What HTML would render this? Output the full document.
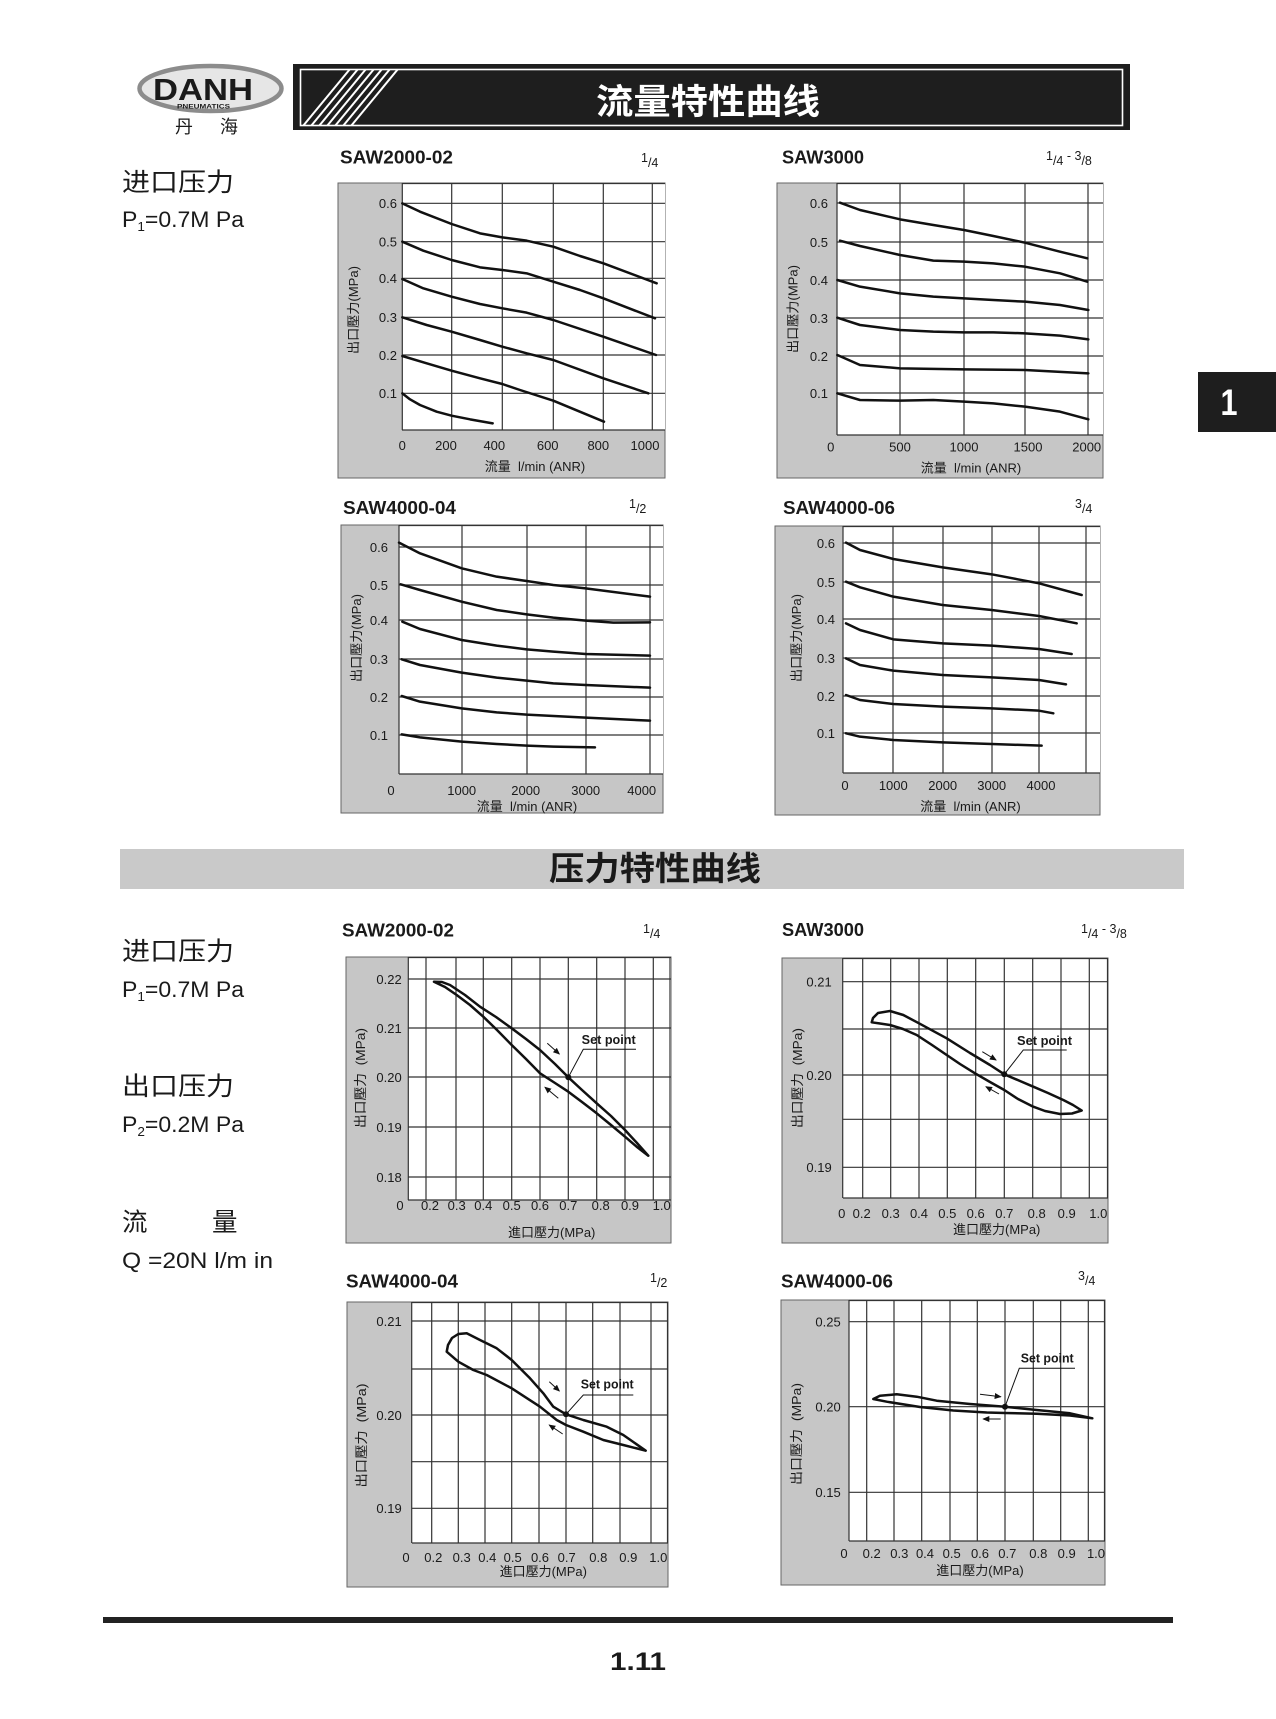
<!DOCTYPE html>
<html><head><meta charset="utf-8">
<style>
html,body{margin:0;padding:0;background:#fff;}
svg{display:block}
text{font-family:"Liberation Sans","Noto Sans CJK SC",sans-serif;fill:#1a1a1a;}
.cjk{font-family:"Liberation Sans","Noto Sans CJK SC",sans-serif;}
.g line{stroke:#333;stroke-width:1.2;}
.cv{fill:none;stroke:#111;stroke-linejoin:round;stroke-linecap:round;}
.tk{font-size:13px;}
.ax{font-size:13px;}
.ttl{font-size:18.5px;font-weight:bold;}
.fr{font-size:12.5px;}
.sp{font-size:12.5px;font-weight:bold;}
</style></head><body>
<svg width="1276" height="1719" viewBox="0 0 1276 1719" xmlns="http://www.w3.org/2000/svg">
<defs>
<marker id="ah" markerWidth="7" markerHeight="6" refX="6" refY="3" orient="auto" markerUnits="userSpaceOnUse">
<path d="M0,0 L7,3 L0,6 z" fill="#111"/>
</marker>
<clipPath id="hb"><rect x="301" y="70" width="821" height="55"/></clipPath>
</defs>

<!-- ===== LOGO ===== -->
<ellipse cx="210.5" cy="88.5" rx="71" ry="22.5" fill="#e6e6e6" stroke="#8c8c8c" stroke-width="4.5"/>
<text x="203" y="100" font-size="31" font-weight="bold" text-anchor="middle" textLength="100" lengthAdjust="spacingAndGlyphs">DANH</text>
<text x="177" y="108.5" font-size="6.5" font-weight="bold" textLength="53" lengthAdjust="spacingAndGlyphs">PNEUMATICS</text>
<text x="175" y="133" font-size="18" class="cjk">丹</text>
<text x="220" y="133" font-size="18" class="cjk">海</text>

<!-- ===== HEADER BAR ===== -->
<rect x="293" y="64" width="837" height="66" fill="#1e1e1e"/>
<rect x="300.5" y="69.5" width="822" height="56" fill="none" stroke="#fff" stroke-width="1.6"/>
<g clip-path="url(#hb)" stroke="#fff" stroke-width="2">
<line x1="303" y1="126" x2="350" y2="69"/>
<line x1="311" y1="126" x2="358" y2="69"/>
<line x1="319" y1="126" x2="366" y2="69"/>
<line x1="327" y1="126" x2="374" y2="69"/>
<line x1="335" y1="126" x2="382" y2="69"/>
<line x1="343" y1="126" x2="390" y2="69"/>
<line x1="351" y1="126" x2="398" y2="69"/>
</g>
<text x="708" y="114" font-size="35" font-weight="bold" text-anchor="middle" class="cjk" style="fill:#fff" textLength="224" lengthAdjust="spacingAndGlyphs">流量特性曲线</text>

<!-- tab -->
<rect x="1198" y="372" width="78" height="60" fill="#1e1e1e"/>
<text x="1229" y="415" font-size="37" font-weight="bold" text-anchor="middle" style="fill:#fff" textLength="17" lengthAdjust="spacingAndGlyphs">1</text>

<!-- ===== LEFT TEXT section 1 ===== -->
<text x="122" y="191" font-size="25.5" class="cjk" textLength="112" lengthAdjust="spacingAndGlyphs">进口压力</text>
<text x="122" y="227" font-size="22" textLength="122" lengthAdjust="spacingAndGlyphs">P<tspan font-size="13" dy="4">1</tspan><tspan dy="-4">=0.7M Pa</tspan></text>

<!-- ===== FLOW CHART 1 ===== -->
<text x="340" y="163.3" class="ttl" textLength="113" lengthAdjust="spacingAndGlyphs">SAW2000-02</text>
<text x="641" y="162" class="fr">1<tspan dy="5">/4</tspan></text>
<rect x="338" y="183" width="327" height="295" fill="#c6c6c6" stroke="#666" stroke-width="1"/>
<rect x="402" y="183" width="263" height="247" fill="#fff"/>
<g class="g">
<line x1="402.3" y1="183" x2="402.3" y2="430"/><line x1="451.7" y1="183" x2="451.7" y2="430"/><line x1="502.3" y1="183" x2="502.3" y2="430"/><line x1="553.3" y1="183" x2="553.3" y2="430"/><line x1="603.3" y1="183" x2="603.3" y2="430"/><line x1="652.3" y1="183" x2="652.3" y2="430"/>
<line x1="402" y1="203.3" x2="665" y2="203.3"/><line x1="402" y1="241.7" x2="665" y2="241.7"/><line x1="402" y1="278.3" x2="665" y2="278.3"/><line x1="402" y1="317.3" x2="665" y2="317.3"/><line x1="402" y1="355" x2="665" y2="355"/><line x1="402" y1="393.3" x2="665" y2="393.3"/>
<line x1="402" y1="430" x2="665" y2="430"/><line x1="402" y1="183.5" x2="665" y2="183.5"/>
</g>
<g class="tk" text-anchor="end">
<text x="397" y="208">0.6</text><text x="397" y="246.5">0.5</text><text x="397" y="283">0.4</text><text x="397" y="322">0.3</text><text x="397" y="360">0.2</text><text x="397" y="398">0.1</text>
</g>
<g class="tk" text-anchor="middle">
<text x="402.3" y="450">0</text><text x="446" y="450">200</text><text x="494.3" y="450">400</text><text x="547.7" y="450">600</text><text x="598.3" y="450">800</text><text x="645" y="450">1000</text>
</g>
<text x="535" y="471" class="ax" text-anchor="middle">流量&#160; l/min (ANR)</text>
<text transform="translate(358,310) rotate(-90)" class="ax" text-anchor="middle" textLength="88" lengthAdjust="spacingAndGlyphs">出口壓力(MPa)</text>
<g transform="translate(320 130) scale(0.333333)" class="cv" stroke-width="7.5">
<polyline points="247,220 300,245 395,282 480,310 547,322 620,332 700,350 780,378 850,400 1010,460"/>
<polyline points="247,335 310,362 395,390 480,412 547,420 620,430 700,455 780,480 850,505 1005,565"/>
<polyline points="247,447 310,475 395,500 480,522 547,535 620,548 700,570 850,620 1008,675"/>
<polyline points="247,562 320,585 395,605 480,630 547,650 620,670 700,690 850,745 985,790"/>
<polyline points="247,678 320,700 395,722 480,745 547,762 600,780 700,812 852,875"/>
<polyline points="247,790 270,808 300,825 350,845 395,857 450,868 518,880"/>
</g>

<!-- ===== FLOW CHART 2 ===== -->
<text x="782" y="163.3" class="ttl" textLength="82" lengthAdjust="spacingAndGlyphs">SAW3000</text>
<text x="1046" y="160" class="fr">1<tspan dy="5">/4</tspan><tspan dy="-5"> - 3</tspan><tspan dy="5">/8</tspan></text>
<rect x="777" y="183" width="326" height="295" fill="#c6c6c6" stroke="#666" stroke-width="1"/>
<rect x="837" y="183" width="266" height="252" fill="#fff"/>
<g class="g">
<line x1="837" y1="183" x2="837" y2="435"/><line x1="900" y1="183" x2="900" y2="435"/><line x1="964" y1="183" x2="964" y2="435"/><line x1="1025" y1="183" x2="1025" y2="435"/><line x1="1088" y1="183" x2="1088" y2="435"/>
<line x1="837" y1="203" x2="1103" y2="203"/><line x1="837" y1="242" x2="1103" y2="242"/><line x1="837" y1="280" x2="1103" y2="280"/><line x1="837" y1="318" x2="1103" y2="318"/><line x1="837" y1="356" x2="1103" y2="356"/><line x1="837" y1="393" x2="1103" y2="393"/>
<line x1="837" y1="435" x2="1103" y2="435"/><line x1="837" y1="183.5" x2="1103" y2="183.5"/>
</g>
<g class="tk" text-anchor="end">
<text x="828" y="208">0.6</text><text x="828" y="247">0.5</text><text x="828" y="285">0.4</text><text x="828" y="323">0.3</text><text x="828" y="361">0.2</text><text x="828" y="398">0.1</text>
</g>
<g class="tk" text-anchor="middle">
<text x="830.7" y="451.5">0</text><text x="900" y="451.5">500</text><text x="964" y="451.5">1000</text><text x="1028" y="451.5">1500</text><text x="1086.7" y="451.5">2000</text>
</g>
<text x="971" y="472.5" class="ax" text-anchor="middle">流量&#160; l/min (ANR)</text>
<text transform="translate(797.5,309) rotate(-90)" class="ax" text-anchor="middle" textLength="88" lengthAdjust="spacingAndGlyphs">出口壓力(MPa)</text>
<g transform="translate(760 130) scale(0.333333)" class="cv" stroke-width="7.5">
<polyline points="240,218 300,240 420,268 520,285 612,300 700,318 795,338 900,365 982,385"/>
<polyline points="240,332 300,348 420,375 520,392 612,395 700,400 795,410 900,430 982,455"/>
<polyline points="232,450 300,470 420,490 520,500 612,505 700,510 795,515 900,525 985,540"/>
<polyline points="232,563 300,585 420,600 520,605 612,607 700,607 795,610 900,617 985,628"/>
<polyline points="232,675 300,705 420,715 612,718 795,720 985,730"/>
<polyline points="232,790 300,810 420,812 520,810 612,815 700,820 795,830 900,845 985,868"/>
</g>

<!-- ===== FLOW CHART 3 ===== -->
<text x="343" y="514" class="ttl" textLength="113" lengthAdjust="spacingAndGlyphs">SAW4000-04</text>
<text x="629" y="508" class="fr">1<tspan dy="5">/2</tspan></text>
<rect x="341" y="525" width="322" height="288" fill="#c6c6c6" stroke="#666" stroke-width="1"/>
<rect x="399" y="525" width="264" height="249" fill="#fff"/>
<g class="g">
<line x1="399" y1="525" x2="399" y2="774"/><line x1="462" y1="525" x2="462" y2="774"/><line x1="527" y1="525" x2="527" y2="774"/><line x1="586" y1="525" x2="586" y2="774"/><line x1="650" y1="525" x2="650" y2="774"/>
<line x1="399" y1="547" x2="663" y2="547"/><line x1="399" y1="585" x2="663" y2="585"/><line x1="399" y1="620" x2="663" y2="620"/><line x1="399" y1="659" x2="663" y2="659"/><line x1="399" y1="697" x2="663" y2="697"/><line x1="399" y1="735" x2="663" y2="735"/>
<line x1="399" y1="774" x2="663" y2="774"/><line x1="399" y1="525.5" x2="663" y2="525.5"/>
</g>
<g class="tk" text-anchor="end">
<text x="388" y="552">0.6</text><text x="388" y="590">0.5</text><text x="388" y="625">0.4</text><text x="388" y="664">0.3</text><text x="388" y="702">0.2</text><text x="388" y="740">0.1</text>
</g>
<g class="tk" text-anchor="middle">
<text x="391" y="795">0</text><text x="461.7" y="795">1000</text><text x="525.7" y="795">2000</text><text x="585.7" y="795">3000</text><text x="641.7" y="795">4000</text>
</g>
<text x="527" y="811" class="ax" text-anchor="middle">流量&#160; l/min (ANR)</text>
<text transform="translate(361,638) rotate(-90)" class="ax" text-anchor="middle" textLength="88" lengthAdjust="spacingAndGlyphs">出口壓力(MPa)</text>
<g transform="translate(320 480) scale(0.333333)" class="cv" stroke-width="7.5">
<polyline points="237,188 300,220 425,265 530,290 620,303 700,315 797,325 990,350"/>
<polyline points="242,313 300,330 425,365 530,390 620,403 700,413 797,422 880,428 990,427"/>
<polyline points="247,425 300,447 425,480 530,497 620,508 700,515 797,522 990,527"/>
<polyline points="245,538 300,555 425,578 530,593 620,602 700,610 797,615 990,623"/>
<polyline points="245,648 300,665 425,685 530,697 620,704 797,713 990,722"/>
<polyline points="245,763 300,772 425,785 530,792 620,797 700,800 825,802"/>
</g>

<!-- ===== FLOW CHART 4 ===== -->
<text x="783" y="514" class="ttl" textLength="112" lengthAdjust="spacingAndGlyphs">SAW4000-06</text>
<text x="1075" y="508" class="fr">3<tspan dy="5">/4</tspan></text>
<rect x="775" y="526" width="325" height="289" fill="#c6c6c6" stroke="#666" stroke-width="1"/>
<rect x="843" y="526" width="257" height="247" fill="#fff"/>
<g class="g">
<line x1="843" y1="526" x2="843" y2="773"/><line x1="893" y1="526" x2="893" y2="773"/><line x1="943" y1="526" x2="943" y2="773"/><line x1="992" y1="526" x2="992" y2="773"/><line x1="1039" y1="526" x2="1039" y2="773"/><line x1="1086" y1="526" x2="1086" y2="773"/>
<line x1="843" y1="543" x2="1100" y2="543"/><line x1="843" y1="582" x2="1100" y2="582"/><line x1="843" y1="619" x2="1100" y2="619"/><line x1="843" y1="658" x2="1100" y2="658"/><line x1="843" y1="696" x2="1100" y2="696"/><line x1="843" y1="733" x2="1100" y2="733"/>
<line x1="843" y1="773" x2="1100" y2="773"/><line x1="843" y1="526.5" x2="1100" y2="526.5"/>
</g>
<g class="tk" text-anchor="end">
<text x="835" y="548">0.6</text><text x="835" y="587">0.5</text><text x="835" y="624">0.4</text><text x="835" y="663">0.3</text><text x="835" y="701">0.2</text><text x="835" y="738">0.1</text>
</g>
<g class="tk" text-anchor="middle">
<text x="845" y="790">0</text><text x="893.3" y="790">1000</text><text x="942.7" y="790">2000</text><text x="991.7" y="790">3000</text><text x="1041" y="790">4000</text>
</g>
<text x="970.5" y="811" class="ax" text-anchor="middle">流量&#160; l/min (ANR)</text>
<text transform="translate(801,638) rotate(-90)" class="ax" text-anchor="middle" textLength="88" lengthAdjust="spacingAndGlyphs">出口壓力(MPa)</text>
<g transform="translate(760 480) scale(0.333333)" class="cv" stroke-width="7.5">
<polyline points="258,188 300,210 400,237 548,262 695,283 837,310 965,345"/>
<polyline points="258,305 300,322 400,350 548,375 695,390 837,408 950,430"/>
<polyline points="258,430 300,450 400,478 548,490 695,497 837,507 935,522"/>
<polyline points="258,535 300,555 400,572 548,585 695,592 837,600 918,613"/>
<polyline points="258,645 300,660 400,672 548,680 695,685 837,692 880,700"/>
<polyline points="258,760 300,770 400,780 548,787 695,792 845,797"/>
</g>

<!-- ===== BANNER 2 ===== -->
<rect x="120" y="849" width="1064" height="40" fill="#c9c9c9"/>
<text x="655" y="880" font-size="33" font-weight="bold" text-anchor="middle" class="cjk" textLength="212" lengthAdjust="spacingAndGlyphs">压力特性曲线</text>

<!-- ===== LEFT TEXT section 2 ===== -->
<text x="122" y="960" font-size="25.5" class="cjk" textLength="112" lengthAdjust="spacingAndGlyphs">进口压力</text>
<text x="122" y="997" font-size="22" textLength="122" lengthAdjust="spacingAndGlyphs">P<tspan font-size="13" dy="4">1</tspan><tspan dy="-4">=0.7M Pa</tspan></text>
<text x="122" y="1095" font-size="25.5" class="cjk" textLength="112" lengthAdjust="spacingAndGlyphs">出口压力</text>
<text x="122" y="1132" font-size="22" textLength="122" lengthAdjust="spacingAndGlyphs">P<tspan font-size="13" dy="4">2</tspan><tspan dy="-4">=0.2M Pa</tspan></text>
<text x="122" y="1231" font-size="25.5" class="cjk">流</text>
<text x="212" y="1231" font-size="25.5" class="cjk">量</text>
<text x="122" y="1268" font-size="22" textLength="151" lengthAdjust="spacingAndGlyphs">Q =20N l/m in</text>

<!-- ===== PRESSURE CHART 1 ===== -->
<text x="342" y="936.7" class="ttl" textLength="112" lengthAdjust="spacingAndGlyphs">SAW2000-02</text>
<text x="643" y="933" class="fr">1<tspan dy="5">/4</tspan></text>
<rect x="346" y="957" width="325" height="286" fill="#c6c6c6" stroke="#666" stroke-width="1"/>
<rect x="408" y="957" width="263" height="243" fill="#fff"/>
<g class="g">
<line x1="408.3" y1="957" x2="408.3" y2="1200"/><line x1="426" y1="957" x2="426" y2="1200"/><line x1="456" y1="957" x2="456" y2="1200"/><line x1="483.3" y1="957" x2="483.3" y2="1200"/><line x1="511.7" y1="957" x2="511.7" y2="1200"/><line x1="540" y1="957" x2="540" y2="1200"/><line x1="568.3" y1="957" x2="568.3" y2="1200"/><line x1="596.7" y1="957" x2="596.7" y2="1200"/><line x1="625" y1="957" x2="625" y2="1200"/><line x1="653.3" y1="957" x2="653.3" y2="1200"/><line x1="670" y1="957" x2="670" y2="1200"/>
<line x1="408" y1="979" x2="671" y2="979"/><line x1="408" y1="1028" x2="671" y2="1028"/><line x1="408" y1="1077" x2="671" y2="1077"/><line x1="408" y1="1127" x2="671" y2="1127"/><line x1="408" y1="1177" x2="671" y2="1177"/>
<line x1="408" y1="1200" x2="671" y2="1200"/><line x1="408" y1="957.5" x2="671" y2="957.5"/>
</g>
<g class="tk" text-anchor="end">
<text x="401.7" y="984">0.22</text><text x="401.7" y="1033">0.21</text><text x="401.7" y="1082">0.20</text><text x="401.7" y="1132">0.19</text><text x="401.7" y="1182">0.18</text>
</g>
<g class="tk" text-anchor="middle">
<text x="400" y="1210">0</text><text x="430" y="1210">0.2</text><text x="456.7" y="1210">0.3</text><text x="483.3" y="1210">0.4</text><text x="511.7" y="1210">0.5</text><text x="540" y="1210">0.6</text><text x="568.3" y="1210">0.7</text><text x="600.7" y="1210">0.8</text><text x="630" y="1210">0.9</text><text x="661.7" y="1210">1.0</text>
</g>
<text x="551.7" y="1237" class="ax" text-anchor="middle">進口壓力(MPa)</text>
<text transform="translate(365,1078) rotate(-90)" class="ax" text-anchor="middle" textLength="100" lengthAdjust="spacingAndGlyphs">出口壓力&#160; (MPa)</text>
<path class="cv" stroke-width="2.5" d="M434,981.7 L442,982 450,985 465,995 480,1006.7 496,1017 511.7,1028.3 526,1039 540,1050 555,1064 568.3,1077.3 582,1090 596.7,1103.3 611,1116 625,1130 637,1143 648.3,1155.7 L637,1147 625,1136.7 611,1125 596.7,1113.3 582,1102 568.3,1091.7 555,1083 540,1073.3 526,1059 511.7,1045 497,1030 483.3,1016.7 470,1005 456.7,995 445,987 434,981.7 Z"/>
<circle cx="568.3" cy="1077.3" r="3" fill="#111"/>
<polyline points="568.3,1077.3 583.3,1049.3 636,1049.3" fill="none" stroke="#111" stroke-width="1"/>
<text x="581.7" y="1044" class="sp" textLength="54" lengthAdjust="spacingAndGlyphs">Set point</text>
<line x1="547.3" y1="1043.3" x2="559.3" y2="1054" stroke="#111" stroke-width="1" marker-end="url(#ah)"/>
<line x1="558.3" y1="1098.3" x2="545" y2="1087.3" stroke="#111" stroke-width="1" marker-end="url(#ah)"/>

<!-- ===== PRESSURE CHART 2 ===== -->
<text x="782" y="936" class="ttl" textLength="82" lengthAdjust="spacingAndGlyphs">SAW3000</text>
<text x="1081" y="933" class="fr">1<tspan dy="5">/4</tspan><tspan dy="-5"> - 3</tspan><tspan dy="5">/8</tspan></text>
<rect x="782" y="958" width="326" height="285" fill="#c6c6c6" stroke="#666" stroke-width="1"/>
<rect x="843" y="958" width="265" height="240" fill="#fff"/>
<g class="g">
<line x1="842.7" y1="958" x2="842.7" y2="1198"/><line x1="862.7" y1="958" x2="862.7" y2="1198"/><line x1="890.7" y1="958" x2="890.7" y2="1198"/><line x1="919" y1="958" x2="919" y2="1198"/><line x1="947.3" y1="958" x2="947.3" y2="1198"/><line x1="975.7" y1="958" x2="975.7" y2="1198"/><line x1="1004.3" y1="958" x2="1004.3" y2="1198"/><line x1="1032.7" y1="958" x2="1032.7" y2="1198"/><line x1="1061" y1="958" x2="1061" y2="1198"/><line x1="1089.3" y1="958" x2="1089.3" y2="1198"/><line x1="1107.5" y1="958" x2="1107.5" y2="1198"/>
<line x1="843" y1="981.7" x2="1108" y2="981.7"/><line x1="843" y1="1029" x2="1108" y2="1029"/><line x1="843" y1="1075" x2="1108" y2="1075"/><line x1="843" y1="1119.3" x2="1108" y2="1119.3"/><line x1="843" y1="1167.3" x2="1108" y2="1167.3"/>
<line x1="843" y1="1198" x2="1108" y2="1198"/><line x1="843" y1="958.5" x2="1108" y2="958.5"/>
</g>
<g class="tk" text-anchor="end">
<text x="831.7" y="986.5">0.21</text><text x="831.7" y="1080">0.20</text><text x="831.7" y="1172">0.19</text>
</g>
<g class="tk" text-anchor="middle">
<text x="841.7" y="1218">0</text><text x="861.7" y="1218">0.2</text><text x="890.7" y="1218">0.3</text><text x="919" y="1218">0.4</text><text x="947.3" y="1218">0.5</text><text x="975.7" y="1218">0.6</text><text x="1004.3" y="1218">0.7</text><text x="1036.7" y="1218">0.8</text><text x="1066.7" y="1218">0.9</text><text x="1098.3" y="1218">1.0</text>
</g>
<text x="996.7" y="1234" class="ax" text-anchor="middle">進口壓力(MPa)</text>
<text transform="translate(802,1078) rotate(-90)" class="ax" text-anchor="middle" textLength="100" lengthAdjust="spacingAndGlyphs">出口壓力&#160; (MPa)</text>
<path class="cv" stroke-width="2.5" d="M871.7,1022.3 L873,1018 878,1013 890,1011 903.3,1015 919,1023.3 946.7,1038.3 970,1053 990,1065 1004.3,1074.3 1020,1081 1033.3,1086.7 1048,1093 1063.3,1100 1073,1105 1081.7,1110.5 L1072,1113.5 1060,1114 1045,1111 1033.3,1106.7 1018,1099 1004.3,1090 990,1082 975,1073.3 960,1064 946.7,1055 932,1045 916.7,1035 903,1029 890,1025 880,1023.5 871.7,1022.3 Z"/>
<circle cx="1004.3" cy="1074.3" r="3" fill="#111"/>
<polyline points="1004.3,1074.3 1023.3,1050 1066.7,1050" fill="none" stroke="#111" stroke-width="1"/>
<text x="1017" y="1045" class="sp" textLength="55" lengthAdjust="spacingAndGlyphs">Set point</text>
<line x1="982.3" y1="1051.7" x2="996" y2="1060" stroke="#111" stroke-width="1" marker-end="url(#ah)"/>
<line x1="999" y1="1094" x2="986" y2="1086.7" stroke="#111" stroke-width="1" marker-end="url(#ah)"/>

<!-- ===== PRESSURE CHART 3 ===== -->
<text x="346" y="1287.3" class="ttl" textLength="112" lengthAdjust="spacingAndGlyphs">SAW4000-04</text>
<text x="650" y="1282" class="fr">1<tspan dy="5">/2</tspan></text>
<rect x="347" y="1302" width="321" height="285" fill="#c6c6c6" stroke="#666" stroke-width="1"/>
<rect x="412" y="1302" width="256" height="241" fill="#fff"/>
<g class="g">
<line x1="411.7" y1="1302" x2="411.7" y2="1543"/><line x1="431.7" y1="1302" x2="431.7" y2="1543"/><line x1="458.3" y1="1302" x2="458.3" y2="1543"/><line x1="485" y1="1302" x2="485" y2="1543"/><line x1="511.7" y1="1302" x2="511.7" y2="1543"/><line x1="539" y1="1302" x2="539" y2="1543"/><line x1="566" y1="1302" x2="566" y2="1543"/><line x1="592.7" y1="1302" x2="592.7" y2="1543"/><line x1="620" y1="1302" x2="620" y2="1543"/><line x1="651" y1="1302" x2="651" y2="1543"/><line x1="667.5" y1="1302" x2="667.5" y2="1543"/>
<line x1="412" y1="1321" x2="668" y2="1321"/><line x1="412" y1="1369" x2="668" y2="1369"/><line x1="412" y1="1415" x2="668" y2="1415"/><line x1="412" y1="1461.7" x2="668" y2="1461.7"/><line x1="412" y1="1508.3" x2="668" y2="1508.3"/>
<line x1="412" y1="1543" x2="668" y2="1543"/><line x1="412" y1="1302.5" x2="668" y2="1302.5"/>
</g>
<g class="tk" text-anchor="end">
<text x="401.7" y="1326">0.21</text><text x="401.7" y="1420">0.20</text><text x="401.7" y="1513">0.19</text>
</g>
<g class="tk" text-anchor="middle">
<text x="406" y="1562">0</text><text x="433.3" y="1562">0.2</text><text x="461.7" y="1562">0.3</text><text x="487.3" y="1562">0.4</text><text x="512.7" y="1562">0.5</text><text x="540" y="1562">0.6</text><text x="566.7" y="1562">0.7</text><text x="598.3" y="1562">0.8</text><text x="628.3" y="1562">0.9</text><text x="658.3" y="1562">1.0</text>
</g>
<text x="543.3" y="1576" class="ax" text-anchor="middle">進口壓力(MPa)</text>
<text transform="translate(366,1435.5) rotate(-90)" class="ax" text-anchor="middle" textLength="104" lengthAdjust="spacingAndGlyphs">出口壓力&#160; (MPa)</text>
<path class="cv" stroke-width="2.5" d="M446.7,1351.7 L448,1345 452,1338 458.3,1334 466.7,1333.3 480,1340 496.7,1348.3 511.7,1360 530,1378.3 543.3,1393.3 553.3,1406.7 566,1414.3 583.3,1420 606.7,1426.7 623.3,1435 645.7,1450.7 L623.3,1445 603.3,1440 583.3,1431.7 566,1425 556.7,1420 540,1406.7 511.7,1388.3 486.7,1375 473.3,1370 458.3,1361.7 446.7,1351.7 Z"/>
<circle cx="566" cy="1414.3" r="3" fill="#111"/>
<polyline points="566,1414.3 583.3,1395 633.3,1395" fill="none" stroke="#111" stroke-width="1"/>
<text x="580.7" y="1388.3" class="sp" textLength="53" lengthAdjust="spacingAndGlyphs">Set point</text>
<line x1="549.3" y1="1381.7" x2="559.3" y2="1391" stroke="#111" stroke-width="1" marker-end="url(#ah)"/>
<line x1="562.7" y1="1434" x2="549.3" y2="1425" stroke="#111" stroke-width="1" marker-end="url(#ah)"/>

<!-- ===== PRESSURE CHART 4 ===== -->
<text x="781" y="1287.3" class="ttl" textLength="112" lengthAdjust="spacingAndGlyphs">SAW4000-06</text>
<text x="1078" y="1280" class="fr">3<tspan dy="5">/4</tspan></text>
<rect x="781" y="1300" width="324" height="285" fill="#c6c6c6" stroke="#666" stroke-width="1"/>
<rect x="849" y="1300" width="256" height="241" fill="#fff"/>
<g class="g">
<line x1="849" y1="1300" x2="849" y2="1541"/><line x1="866.7" y1="1300" x2="866.7" y2="1541"/><line x1="894" y1="1300" x2="894" y2="1541"/><line x1="921.7" y1="1300" x2="921.7" y2="1541"/><line x1="950" y1="1300" x2="950" y2="1541"/><line x1="977.3" y1="1300" x2="977.3" y2="1541"/><line x1="1005" y1="1300" x2="1005" y2="1541"/><line x1="1033.3" y1="1300" x2="1033.3" y2="1541"/><line x1="1060.7" y1="1300" x2="1060.7" y2="1541"/><line x1="1088.3" y1="1300" x2="1088.3" y2="1541"/><line x1="1104.5" y1="1300" x2="1104.5" y2="1541"/>
<line x1="849" y1="1321.7" x2="1105" y2="1321.7"/><line x1="849" y1="1406.7" x2="1105" y2="1406.7"/><line x1="849" y1="1492.3" x2="1105" y2="1492.3"/>
<line x1="849" y1="1541" x2="1105" y2="1541"/><line x1="849" y1="1300.5" x2="1105" y2="1300.5"/>
</g>
<g class="tk" text-anchor="end">
<text x="840.7" y="1326.5">0.25</text><text x="840.7" y="1411.5">0.20</text><text x="840.7" y="1497">0.15</text>
</g>
<g class="tk" text-anchor="middle">
<text x="844" y="1558">0</text><text x="871.7" y="1558">0.2</text><text x="899.3" y="1558">0.3</text><text x="925" y="1558">0.4</text><text x="951.7" y="1558">0.5</text><text x="980" y="1558">0.6</text><text x="1007.3" y="1558">0.7</text><text x="1038.3" y="1558">0.8</text><text x="1066.7" y="1558">0.9</text><text x="1096" y="1558">1.0</text>
</g>
<text x="980" y="1575" class="ax" text-anchor="middle">進口壓力(MPa)</text>
<text transform="translate(801,1434) rotate(-90)" class="ax" text-anchor="middle" textLength="102" lengthAdjust="spacingAndGlyphs">出口壓力&#160; (MPa)</text>
<path class="cv" stroke-width="2.5" d="M873.3,1399 L880,1395.7 896.7,1394.3 916.7,1396.7 936.7,1400.7 970,1404 1005,1406.7 1036.7,1410 1070,1413.3 1092.3,1418.3 L1070,1415.5 1036.7,1413.8 1005,1413 986.7,1412.5 953.3,1410.5 920,1407 886.7,1401.7 873.3,1399 Z"/>
<circle cx="1005" cy="1406.7" r="3" fill="#111"/>
<polyline points="1005,1406.7 1019.3,1368.3 1075,1368.3" fill="none" stroke="#111" stroke-width="1"/>
<text x="1020.7" y="1362.3" class="sp" textLength="53" lengthAdjust="spacingAndGlyphs">Set point</text>
<line x1="980" y1="1394.3" x2="1000.7" y2="1396.7" stroke="#111" stroke-width="1" marker-end="url(#ah)"/>
<line x1="1000.7" y1="1419" x2="983.3" y2="1419" stroke="#111" stroke-width="1" marker-end="url(#ah)"/>

<!-- ===== FOOTER ===== -->
<rect x="103" y="1617" width="1070" height="6" fill="#222"/>
<text x="638" y="1670" font-size="25" font-weight="bold" text-anchor="middle" textLength="56" lengthAdjust="spacingAndGlyphs">1.11</text>
</svg>
</body></html>
